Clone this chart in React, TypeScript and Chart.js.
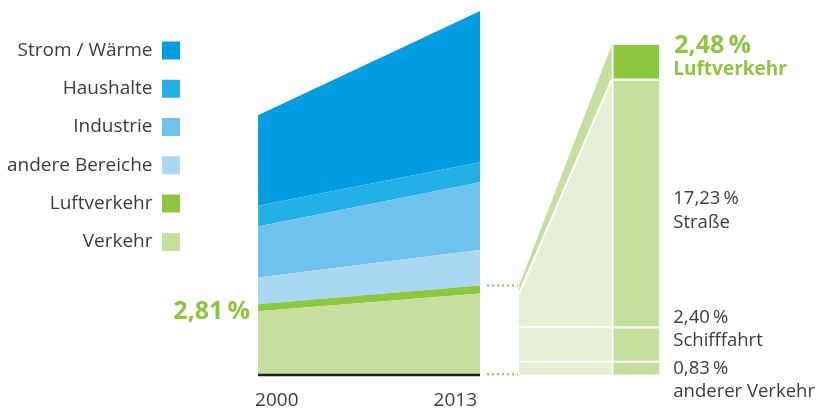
import React, { useEffect, useRef } from 'react';
import { Chart, registerables } from 'chart.js';

Chart.register(...registerables);

// ---------- data ----------
const YEARS = [2000, 2013];
const SECTOR_NAMES = ['Verkehr', 'Luftverkehr', 'andere Bereiche', 'Industrie', 'Haushalte', 'Strom / Wärme'];
const VERKEHR = [5.64, 7.2];
const LUFTVERKEHR = [0.62, 0.73];
const ANDERE_BEREICHE = [2.36, 3.15];
const INDUSTRIE = [4.53, 6.01];
const HAUSHALTE = [1.86, 1.77];
const STROM_WAERME = [8.02, 13.43];
const SECTOR_COLORS = ['#c6df9f', '#8dc63f', '#a9d8f3', '#70c2ee', '#22afe6', '#009ee0'];

const LUFT_SHARE_2000 = '2,81\u2009%';

// breakdown of transport in 2013 (bottom to top)
const BREAKDOWN_NAMES = ['anderer Verkehr', 'Schifffahrt', 'Straße', 'Luftverkehr'];
const BREAKDOWN_VALUES = [0.83, 2.4, 17.23, 2.48];
const BREAKDOWN_PCT = ['0,83\u2009%', '2,40\u2009%', '17,23\u2009%', '2,48\u2009%'];
const BREAKDOWN_COLORS = ['#c6df9f', '#c6df9f', '#c6df9f', '#8dc63f'];

// ---------- layout / style ----------
const X_MIN = 1984.89;
const X_MAX = 2033.2;
const BAR_X = 2022.15;
const Y2_MAX = 25.29;
const CONNECTOR_GAP = 39; // px right of the 2013 edge
const LABEL_DY = [4.8, -22.7, 0, -9.6]; // baseline offset from segment centre
const GREEN = '#8dc63f';
const PALE_GREEN = '#e6f0d7';
const TEXT = '#3c3c3b';
const FONT = "'Open Sans', sans-serif";

const SERIES = [VERKEHR, LUFTVERKEHR, ANDERE_BEREICHE, INDUSTRIE, HAUSHALTE, STROM_WAERME];

const overlay = {
  id: 'overlay',
  beforeDatasetsDraw(chart: any) {
    const { ctx } = chart;
    const xs = chart.scales.x, ys = chart.scales.y, y2 = chart.scales.y2;
    const i = 1;
    const verTop = ys.getPixelForValue(VERKEHR[i]);
    const luftTop = ys.getPixelForValue(VERKEHR[i] + LUFTVERKEHR[i]);
    const base = ys.getPixelForValue(0);
    const xL = xs.getPixelForValue(YEARS[1]) + CONNECTOR_GAP;
    const bar = chart.getDatasetMeta(SERIES.length).data[0];
    const xR = bar.x - bar.width / 2 - 1.5;
    const total = BREAKDOWN_VALUES.reduce((a, b) => a + b, 0);
    const luftV = BREAKDOWN_VALUES[BREAKDOWN_VALUES.length - 1];
    const barTop = y2.getPixelForValue(total);
    const luftBottom = y2.getPixelForValue(total - luftV);
    ctx.save();
    ctx.fillStyle = SECTOR_COLORS[0];
    ctx.beginPath();
    ctx.moveTo(xL, luftTop);
    ctx.lineTo(xR, barTop);
    ctx.lineTo(xR, luftBottom);
    ctx.lineTo(xL, verTop);
    ctx.closePath();
    ctx.fill();
    ctx.fillStyle = PALE_GREEN;
    ctx.beginPath();
    ctx.moveTo(xL, verTop);
    ctx.lineTo(xR, luftBottom);
    ctx.lineTo(xR, base);
    ctx.lineTo(xL, base);
    ctx.closePath();
    ctx.fill();
    ctx.strokeStyle = '#ffffff';
    ctx.lineWidth = 2;
    ctx.beginPath();
    ctx.moveTo(xL, verTop);
    ctx.lineTo(xR, luftBottom - 1);
    ctx.stroke();
    let cum = 0;
    for (let k = 0; k < BREAKDOWN_VALUES.length - 2; k++) {
      cum += BREAKDOWN_VALUES[k];
      const yy = y2.getPixelForValue(cum) - 1;
      ctx.beginPath();
      ctx.moveTo(xL, yy);
      ctx.lineTo(xR, yy);
      ctx.stroke();
    }
    ctx.restore();
  },
  afterDatasetsDraw(chart: any) {
    const { ctx } = chart;
    const xs = chart.scales.x, ys = chart.scales.y;
    const base = ys.getPixelForValue(0);
    const x0 = xs.getPixelForValue(YEARS[0]);
    const x1 = xs.getPixelForValue(YEARS[1]);
    const luftTop = ys.getPixelForValue(VERKEHR[1] + LUFTVERKEHR[1]);
    const xL = x1 + CONNECTOR_GAP;
    ctx.save();
    ctx.strokeStyle = '#1d1d1b';
    ctx.lineWidth = 2.5;
    ctx.beginPath();
    ctx.moveTo(x0, base + 0.3);
    ctx.lineTo(x1, base + 0.3);
    ctx.stroke();
    ctx.strokeStyle = GREEN;
    ctx.lineWidth = 2;
    ctx.setLineDash([2, 3]);
    for (const yy of [luftTop, base - 0.5]) {
      ctx.beginPath();
      ctx.moveTo(x1 + 7, yy);
      ctx.lineTo(xL - 1, yy);
      ctx.stroke();
    }
    ctx.setLineDash([]);
    const lmid = (ys.getPixelForValue(VERKEHR[0]) + ys.getPixelForValue(VERKEHR[0] + LUFTVERKEHR[0])) / 2;
    ctx.fillStyle = GREEN;
    ctx.font = `bold 25px ${FONT}`;
    ctx.textAlign = 'right';
    ctx.textBaseline = 'alphabetic';
    ctx.fillText(LUFT_SHARE_2000, x0 - 8, lmid + 11.5);
    ctx.restore();
  },
  afterDraw(chart: any) {
    const { ctx } = chart;
    const y2 = chart.scales.y2;
    const bar = chart.getDatasetMeta(SERIES.length).data[0];
    const xRight = bar.x + bar.width / 2;
    ctx.save();
    ctx.textAlign = 'left';
    ctx.textBaseline = 'alphabetic';
    let cum = 0;
    BREAKDOWN_VALUES.forEach((v, k) => {
      const mid = (y2.getPixelForValue(cum) + y2.getPixelForValue(cum + v)) / 2;
      cum += v;
      const yb = mid + LABEL_DY[k];
      const top = k === BREAKDOWN_VALUES.length - 1;
      if (top) {
        ctx.fillStyle = GREEN;
        ctx.font = `bold 25px ${FONT}`;
        ctx.fillText(BREAKDOWN_PCT[k], xRight + 15, yb);
        ctx.font = `bold 19px ${FONT}`;
        ctx.fillText(BREAKDOWN_NAMES[k], xRight + 14, yb + 22.4);
      } else {
        ctx.fillStyle = TEXT;
        ctx.font = `18.5px ${FONT}`;
        ctx.fillText(BREAKDOWN_PCT[k], xRight + 14, yb);
        ctx.fillText(BREAKDOWN_NAMES[k], xRight + 14, yb + 23.3);
      }
    });
    ctx.restore();
  },
};

export default function App() {
  const ref = useRef<HTMLCanvasElement>(null);
  useEffect(() => {
    const areaSets = SERIES.map((vals, k) => ({
      type: 'line' as const,
      label: SECTOR_NAMES[k],
      data: YEARS.map((yr, j) => ({ x: yr, y: vals[j] })),
      backgroundColor: SECTOR_COLORS[k],
      borderColor: SECTOR_COLORS[k],
      borderWidth: 0,
      pointRadius: 0,
      tension: 0,
      fill: k === 0 ? 'origin' : '-1',
      yAxisID: 'y',
      stack: 'area',
    }));
    const barSets = BREAKDOWN_VALUES.map((v, k) => ({
      type: 'bar' as const,
      label: BREAKDOWN_NAMES[k],
      data: [{ x: BAR_X, y: v }],
      backgroundColor: BREAKDOWN_COLORS[k],
      borderColor: '#ffffff',
      borderWidth: k === 0 ? 0 : { top: 0, left: 0, right: 0, bottom: 2 },
      borderSkipped: false,
      inflateAmount: 0,
      barThickness: 46,
      yAxisID: 'y2',
      stack: 'bar',
    }));
    const total2013 = SERIES.reduce((s, vals) => s + vals[1], 0);
    const chart = new Chart(ref.current as HTMLCanvasElement, {
      type: 'line',
      data: { datasets: [...areaSets, ...barSets] as any },
      plugins: [overlay],
      options: {
        animation: false,
        responsive: false,
        events: [],
        layout: { padding: { left: 0, right: 0, top: 11, bottom: -15.5 } },
        scales: {
          x: {
            type: 'linear',
            offset: false,
            min: X_MIN,
            max: X_MAX,
            grid: { display: false, drawTicks: false, offset: false },
            border: { display: false },
            afterBuildTicks: (scale: any) => {
              scale.ticks = YEARS.map((v) => ({ value: v }));
            },
            ticks: {
              align: 'inner',
              padding: 14,
              labelOffset: -3,
              color: TEXT,
              font: { family: FONT, size: 19 },
              callback: (v: any) => String(v),
            },
          },
          y: { type: 'linear', display: false, stacked: true, min: 0, max: total2013 },
          y2: { type: 'linear', display: false, stacked: true, min: 0, max: Y2_MAX },
        },
        plugins: {
          tooltip: { enabled: false },
          legend: {
            position: 'chartArea',
            align: 'start',
            rtl: true,
            maxWidth: 199.3,
            title: { display: true, text: '', font: { size: 10, lineHeight: 1 }, padding: { top: 11.6, bottom: 0 } },
            labels: {
              boxWidth: 18,
              boxHeight: 18,
              padding: 19.3,
              color: TEXT,
              font: { family: FONT, size: 19 },
              filter: (item: any) => item.datasetIndex < SERIES.length,
              sort: (a: any, b: any) => b.datasetIndex - a.datasetIndex,
            },
          },
        },
      } as any,
    });
    return () => chart.destroy();
  }, []);
  return (
    <div style={{ position: 'absolute', left: 0, top: 0, width: 825, height: 410 }}>
      <canvas ref={ref} width={825} height={410} style={{ display: 'block' }} />
    </div>
  );
}
